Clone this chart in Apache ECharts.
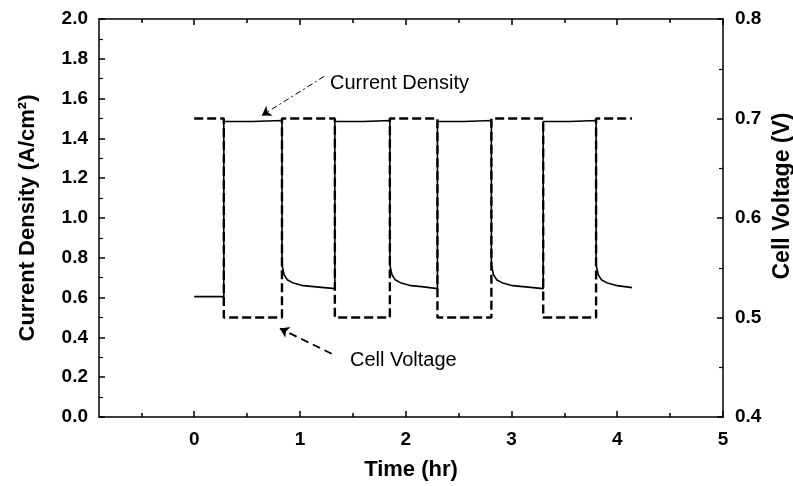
<!DOCTYPE html>
<html>
<head>
<meta charset="utf-8">
<script src="https://cdn.jsdelivr.net/npm/echarts@6/dist/echarts.min.js"></script>
<style>
html,body{margin:0;padding:0;background:#fff;}
#chart{width:793px;height:486px;}
</style>
</head>
<body>
<div id="chart"></div>
<script>
// ---- data ----
const timeTicks = [0, 1, 2, 3, 4, 5];
const timeMinorTicks = [-0.5, 0.5, 1.5, 2.5, 3.5, 4.5];

const currentTime    = [0, 0.28, 0.28, 0.83, 0.83, 1.33, 1.33, 1.85, 1.85, 2.30, 2.30, 2.81, 2.81, 3.30, 3.30, 3.80, 3.80, 4.14];
const currentDensity = [1.5, 1.5, 0.5, 0.5, 1.5, 1.5, 0.5, 0.5, 1.5, 1.5, 0.5, 0.5, 1.5, 1.5, 0.5, 0.5, 1.5, 1.5];

const voltageTime = [
  0, 0.28, 0.28, 0.55, 0.83,
  0.83, 0.85, 0.88, 0.93, 1.03, 1.13, 1.33,
  1.33, 1.60, 1.85,
  1.85, 1.87, 1.90, 1.95, 2.05, 2.15, 2.30,
  2.30, 2.55, 2.81,
  2.81, 2.83, 2.86, 2.91, 3.01, 3.11, 3.30,
  3.30, 3.55, 3.80,
  3.80, 3.82, 3.85, 3.90, 4.00, 4.14
];
const cellVoltage = [
  0.521, 0.521, 0.697, 0.697, 0.698,
  0.553, 0.543, 0.538, 0.535, 0.532, 0.531, 0.529,
  0.697, 0.697, 0.698,
  0.553, 0.543, 0.538, 0.535, 0.532, 0.531, 0.529,
  0.697, 0.697, 0.698,
  0.553, 0.543, 0.538, 0.535, 0.532, 0.531, 0.529,
  0.697, 0.697, 0.698,
  0.553, 0.543, 0.538, 0.535, 0.532, 0.530
];

// annotation arrows (data coordinates on left axis)
const cdArrow = [[1.23, 1.712], [0.64, 1.515]];
const cvArrow = [[1.30, 0.318], [0.81, 0.445]];

const FONT = 'Liberation Sans, Arial, Helvetica, sans-serif';
const black = '#000';

function zip(a, b) { return a.map((v, i) => [v, b[i]]); }

const chart = echarts.init(document.getElementById('chart'), null, {renderer: 'canvas'});

function xAxisDef(position, ticks, len, withLabels, showLine) {
  return {
    type: 'value', position: position, min: -0.9, max: 5,
    axisLine: {show: showLine, onZero: false, lineStyle: {color: black, width: 1.5}},
    axisTick: {show: true, inside: true, length: len, customValues: ticks, lineStyle: {color: black, width: 1.5}},
    axisLabel: withLabels ? {show: true, customValues: ticks, margin: 13, color: black, fontFamily: FONT, fontWeight: 'bold', fontSize: 19} : {show: false},
    splitLine: {show: false}
  };
}

const xAxes = [
  Object.assign(xAxisDef('bottom', timeTicks, 6, true, true), {
    name: 'Time (hr)', nameLocation: 'middle', nameGap: 42,
    nameTextStyle: {color: black, fontFamily: FONT, fontWeight: 'bold', fontSize: 22}
  }),
  xAxisDef('bottom', timeMinorTicks, 4, false, false),
  xAxisDef('top', timeTicks, 6, false, true),
  xAxisDef('top', timeMinorTicks, 4, false, false)
];

const option = {
  animation: false,
  backgroundColor: '#fff',
  grid: {left: 99, right: 70, top: 19, bottom: 64, containLabel: false},
  xAxis: xAxes,
  yAxis: [
    {
      type: 'value', position: 'left', min: 0, max: 2, interval: 0.2,
      name: 'Current Density (A/cm²)', nameLocation: 'middle', nameGap: 60, nameRotate: 90,
      nameTextStyle: {color: black, fontFamily: FONT, fontWeight: 'bold', fontSize: 22},
      axisLine: {show: true, onZero: false, lineStyle: {color: black, width: 1.5}},
      axisTick: {show: true, inside: true, length: 6, lineStyle: {color: black, width: 1.5}},
      minorTick: {show: true, splitNumber: 2, length: 4, lineStyle: {color: black, width: 1.2}},
      axisLabel: {margin: 11, color: black, fontFamily: FONT, fontWeight: 'bold', fontSize: 19,
        formatter: v => v.toFixed(1)},
      splitLine: {show: false}
    },
    {
      type: 'value', position: 'right', min: 0.4, max: 0.8, interval: 0.1,
      axisLine: {show: true, onZero: false, lineStyle: {color: black, width: 1.5}},
      axisTick: {show: true, inside: true, length: 6, lineStyle: {color: black, width: 1.5}},
      minorTick: {show: true, splitNumber: 2, length: 4, lineStyle: {color: black, width: 1.2}},
      axisLabel: {margin: 12, color: black, fontFamily: FONT, fontWeight: 'bold', fontSize: 19,
        formatter: v => v.toFixed(1)},
      splitLine: {show: false}
    }
  ],
  series: [
    {
      name: 'Cell Voltage', type: 'line', xAxisIndex: 0, yAxisIndex: 1,
      data: zip(voltageTime, cellVoltage), showSymbol: false, symbol: 'none',
      lineStyle: {color: black, width: 1.6}, z: 3
    },
    {
      name: 'Current Density', type: 'line', xAxisIndex: 0, yAxisIndex: 0,
      data: zip(currentTime, currentDensity), showSymbol: false, symbol: 'none',
      lineStyle: {color: black, width: 2.4, type: [9, 4]}, z: 4,
      markLine: {
        silent: true, animation: false,
        symbol: ['none', 'arrow'], symbolSize: 9,
        label: {show: false},
        data: [
          [{coord: cdArrow[0], lineStyle: {color: black, width: 1, type: [6, 3, 2, 3]}}, {coord: cdArrow[1]}],
          [{coord: cvArrow[0], lineStyle: {color: black, width: 1.8, type: [8, 5]}}, {coord: cvArrow[1]}]
        ]
      }
    }
  ],
  graphic: [
    {type: 'text', x: 330, y: 83, style: {text: 'Current Density', fill: black, font: '20px ' + FONT, align: 'left', verticalAlign: 'middle'}},
    {type: 'text', x: 350, y: 360, style: {text: 'Cell Voltage', fill: black, font: '20px ' + FONT, align: 'left', verticalAlign: 'middle'}},
    {type: 'text', x: 783, y: 196, rotation: Math.PI / 2, style: {text: 'Cell Voltage (V)', fill: black, font: 'bold 23px ' + FONT, align: 'center', verticalAlign: 'middle'}}
  ]
};

chart.setOption(option);
</script>
</body>
</html>
